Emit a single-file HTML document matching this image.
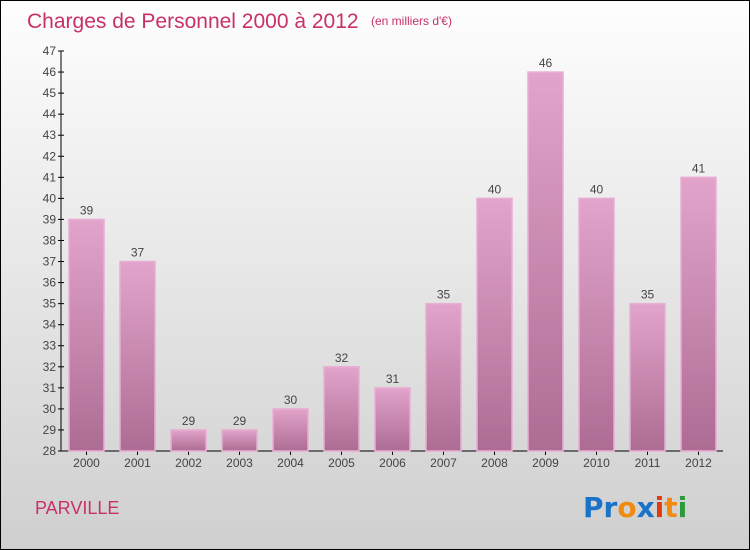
<!DOCTYPE html>
<html><head><meta charset="utf-8"><style>
body{margin:0}
#wrap{position:relative;width:748px;height:548px;border:1px solid #000;background:linear-gradient(#fefefe,#cfcfcf);font-family:"Liberation Sans",sans-serif;overflow:hidden}
</style></head><body>
<div id="wrap">
<svg id="chart" width="748" height="548">
<defs><linearGradient id="bg" x1="0" y1="0" x2="0" y2="1"><stop offset="0" stop-color="#e2a4cb"/><stop offset="1" stop-color="#ad6c93"/></linearGradient></defs>
<text x="26" y="27" font-size="21" fill="#c8306a">Charges de Personnel 2000 à 2012</text>
<text x="370" y="24" font-size="12" fill="#c8306a">(en milliers d'€)</text>
<text x="34" y="513" font-size="18" fill="#c8306a">PARVILLE</text>
<g font-size="28" font-weight="bold" font-family="'DejaVu Sans',sans-serif">
<text x="582" y="516"><tspan fill="#1a73c8">Pr</tspan><tspan fill="#f08a10">o</tspan><tspan fill="#1a73c8">x</tspan><tspan fill="#e03a10">i</tspan><tspan fill="#f08a10">t</tspan><tspan fill="#2a9a3a">i</tspan></text>
</g>
<g id="axes"></g><g id="bars"></g>
</svg></div>
<script>
const years=["2000","2001","2002","2003","2004","2005","2006","2007","2008","2009","2010","2011","2012"];
const values=[39,37,29,29,30,32,31,35,40,46,40,35,41];
const yTicks=[28,29,30,31,32,33,34,35,36,37,38,39,40,41,42,43,44,45,46,47];
const NS="http://www.w3.org/2000/svg";
const yMin=28,yMax=47,yTop=50,yBot=450;
const y=v=>yBot-(v-yMin)/(yMax-yMin)*(yBot-yTop);
const x=i=>85.5+i*51;
function mk(t,a,p){const e=document.createElementNS(NS,t);for(const k in a)e.setAttribute(k,a[k]);p.appendChild(e);return e;}
const ax=document.getElementById('axes'),bs=document.getElementById('bars');
const yl=mk('line',{x1:60,y1:yTop,x2:60,y2:yBot,stroke:'#000'},ax);


const xl=mk('line',{x1:60,y1:yBot,x2:722,y2:yBot,stroke:'#000'},ax);


yTicks.forEach(v=>{
 mk('line',{x1:57,x2:63,y1:y(v),y2:y(v),stroke:'#000'},ax);
 const t=mk('text',{x:55,y:y(v)+4,'text-anchor':'end','font-size':12,fill:'#444'},ax);
 t.textContent=v;
 
 
});
years.forEach((yr,i)=>{
 const r=mk('rect',{x:x(i)-17.5,y:y(values[i]),width:35,height:yBot-y(values[i]),fill:'url(#bg)',stroke:'#e8aed3','stroke-width':1.5},bs);
 
 
 const v=mk('text',{x:x(i),y:y(values[i])-5,'text-anchor':'middle','font-size':12,fill:'#444'},bs);
 v.textContent=values[i];
 
 
 mk('line',{x1:x(i),x2:x(i),y1:yBot,y2:yBot+4,stroke:'#000'},ax);
 const t=mk('text',{x:x(i),y:yBot+16,'text-anchor':'middle','font-size':12,fill:'#444'},ax);
 t.textContent=yr;
 
 
});
</script>
</body></html>
